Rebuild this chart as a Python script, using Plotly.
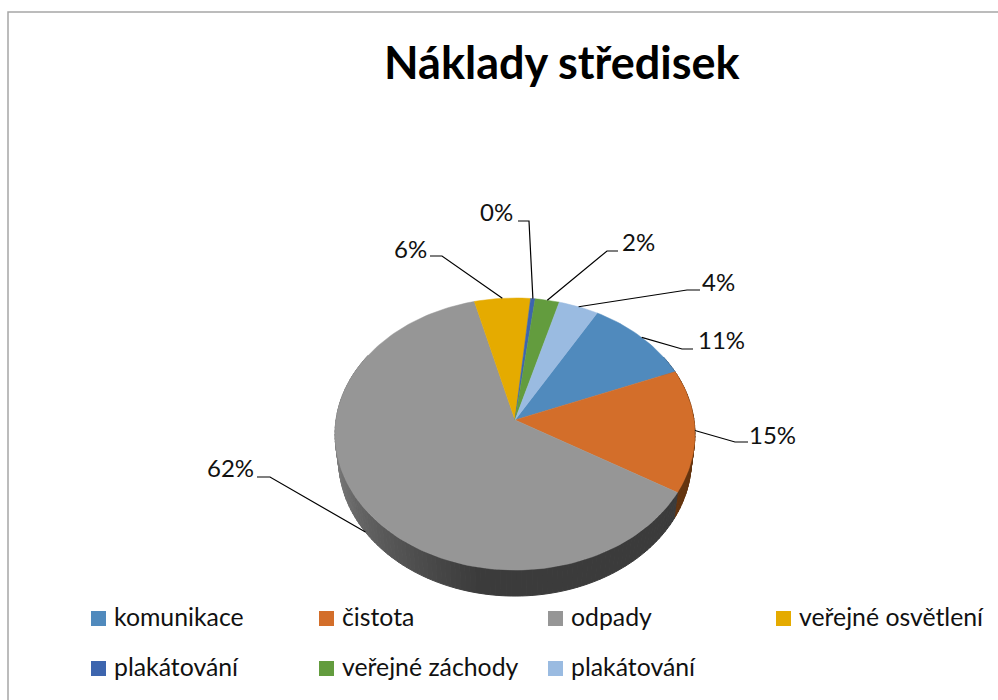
import math
import plotly.graph_objects as go

# ---- data ----
categories = ["komunikace", "čistota", "odpady", "veřejné osvětlení", "plakátování", "veřejné záchody", "plakátování"]
shares = [10.6, 14.6, 62.45, 5.55, 0.45, 2.4, 3.95]
colors = ["#508ABD", "#D36E2A", "#969696", "#E5AB00", "#3D65AE", "#639C3E", "#9ABBE1"]
wall_colors = ["#2f4f6e", "#64340f", "#3b3b3b", "#6b5000", "#1d3055", "#2f4a1e", "#4a5b6e"]
title = "Náklady středisek"

# ---- layout constants (pixels of the 998x700 frame) ----
W, H = 998, 700
FONT = "Lato, Carlito, Calibri, sans-serif"
CX, CY, R, A, K = 515, 420, 179, 134.6, 0.103
DEPTH, BOTTOM_SCALE = 26, 0.98
START = 30.0
# label centre, elbow x, stub end x, stub y for each slice
label_pos = [(721, 339, 682, 693, 349), (772, 434, 735, 748, 442), (230, 467, 270, 257, 477),
             (410, 248, 442, 430, 256), (496, 211, 529, 518, 221), (638, 241, 607, 618, 251),
             (718, 281, 687, 700, 290)]
legend_x = [91, 319, 548, 776, 91, 319, 548]
legend_y = [618.5, 618.5, 618.5, 618.5, 668.5, 668.5, 668.5]


def rim(deg):
    t = math.radians(deg)
    s, c = math.cos(t), math.sin(t)
    w = 1 + K * s
    return CX + R * c / w, CY - A * s / w


def lower(deg):
    x, y = rim(deg)
    return CX + (x - CX) * BOTTOM_SCALE, y + DEPTH


def shade(deg):
    # side wall of the big slice lightens towards the left
    if deg <= 190:
        v = 0x3b
    else:
        v = int(0x3b + (0x80 - 0x3b) * min(1, (deg - 190) / 75))
    return f"rgb({v},{v},{v})"


total = sum(shares)
edges = [START]
for v in shares:
    edges.append(edges[-1] + v / total * 360)

fig = go.Figure()

# side wall strips
for i, v in enumerate(shares):
    a0, a1 = edges[i], edges[i + 1]
    n = max(2, int((a1 - a0) / 1.5))
    for j in range(n):
        d0 = a0 + (a1 - a0) * j / n
        d1 = a0 + (a1 - a0) * (j + 1) / n
        mid = (d0 + d1) / 2
        if not 60 < mid < 300:
            continue
        col = shade(mid) if i == 2 else wall_colors[i]
        pts = [rim(d0), rim(d1), lower(d1), lower(d0), rim(d0)]
        fig.add_trace(go.Scatter(x=[p[0] for p in pts], y=[p[1] for p in pts], mode="lines",
                                 fill="toself", fillcolor=col, line=dict(color=col, width=1),
                                 hoverinfo="skip", showlegend=False))

# top faces
for i, v in enumerate(shares):
    a0, a1 = edges[i], edges[i + 1]
    n = max(3, int((a1 - a0) / 1.5))
    pts = [(CX, CY)] + [rim(a0 + (a1 - a0) * j / n) for j in range(n + 1)] + [(CX, CY)]
    fig.add_trace(go.Scatter(x=[p[0] for p in pts], y=[p[1] for p in pts], mode="lines",
                             fill="toself", fillcolor=colors[i], line=dict(color=colors[i], width=0.5),
                             name=categories[i], hoverinfo="name", showlegend=False))

annotations = []
# leader lines and labels
for i, v in enumerate(shares):
    mid = (edges[i] + edges[i + 1]) / 2
    lx, ly, ex, sx, sy = label_pos[i]
    ax, ay = lower(mid) if i == 2 else rim(mid)
    fig.add_trace(go.Scatter(x=[ax, ex, sx], y=[ay, sy, sy], mode="lines",
                             line=dict(color="#000000", width=1.2), hoverinfo="skip", showlegend=False))
    annotations.append(dict(x=lx, y=ly, xref="x", yref="y", text=f"{v / total * 100:.0f}%", showarrow=False,
                            xanchor="center", yanchor="middle", font=dict(family=FONT, size=24, color="#111111")))

# legend
fig.add_trace(go.Scatter(x=[x + 7.5 for x in legend_x], y=legend_y, mode="markers",
                         marker=dict(symbol="square", size=15, color=colors, line=dict(width=0)),
                         hoverinfo="skip", showlegend=False))
for name, x, y in zip(categories, legend_x, legend_y):
    annotations.append(dict(x=x + 21, y=y - 2, xref="x", yref="y", text=name, showarrow=False,
                            xanchor="left", yanchor="middle", font=dict(family=FONT, size=24.8, color="#111111")))

annotations.append(dict(x=562, y=62, xref="x", yref="y", text=f"<b>{title}</b>", showarrow=False,
                        xanchor="center", yanchor="middle", font=dict(family=FONT, size=45, color="#000000")))

fig.update_layout(
    width=W, height=H, margin=dict(l=0, r=0, t=0, b=0),
    paper_bgcolor="white", plot_bgcolor="white", showlegend=False,
    xaxis=dict(range=[0, W], visible=False, fixedrange=True),
    yaxis=dict(range=[H, 0], visible=False, fixedrange=True),
    annotations=annotations,
    shapes=[dict(type="rect", xref="x", yref="y", x0=8, y0=12, x1=1010, y1=720,
                 line=dict(color="#a6a6a6", width=1.5), fillcolor="rgba(0,0,0,0)", layer="below")],
)
fig.write_html("out.html", config={"displayModeBar": False},
               post_script="document.body.style.margin='0';document.documentElement.style.overflow='hidden';")
